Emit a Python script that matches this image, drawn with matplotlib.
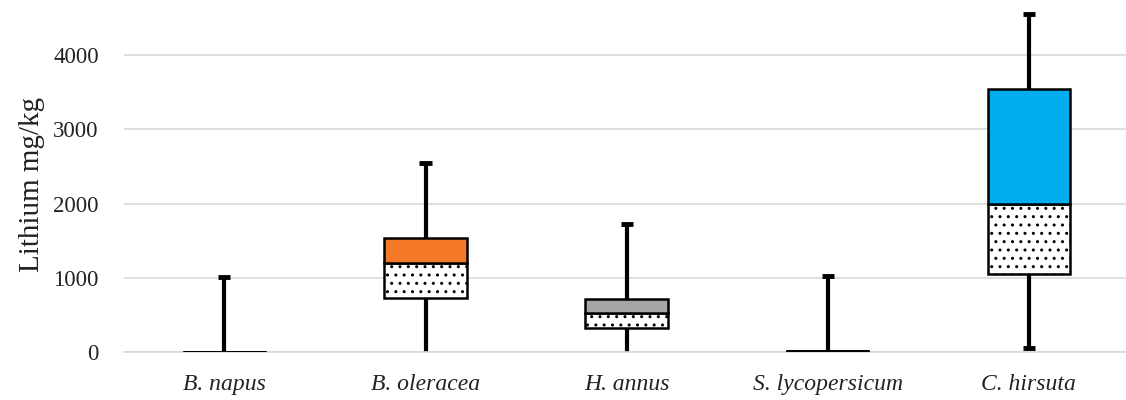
import matplotlib
matplotlib.use("Agg")
import matplotlib.pyplot as plt
import numpy as np

plt.rcParams['hatch.linewidth'] = 1.0

categories = ["B. napus", "B. oleracea", "H. annus", "S. lycopersicum", "C. hirsuta"]
mins    = [0,    0,    0,    0,    55]
q1      = [0,    730,  325,  20,   1050]
medians = [0,    1200, 525,  20,   1995]
q3      = [0,    1540, 715,  20,   3545]
maxs    = [1010, 2550, 1725, 1030, 4555]
colors  = ["#F47A2A", "#F47A2A", "#A6A6A6", "#A6A6A6", "#00ADEE"]

fig = plt.figure(figsize=(11.26, 4.0), dpi=100)
ax = fig.add_axes([0.110, 0.12, 0.893, 0.88])

x = np.arange(len(categories))
w = 0.41
q1a = np.array(q1); meda = np.array(medians); q3a = np.array(q3)

ax.set_axisbelow(True)
ax.yaxis.grid(True, color="#D9D9D9", lw=1.2)

# whiskers
ax.vlines(x, q3a, maxs, color="black", lw=3, zorder=2)
ax.vlines(x, mins, q1a, color="black", lw=3, zorder=2)
for xi, mx, mn in zip(x, maxs, mins):
    ax.hlines(mx, xi - 0.03, xi + 0.03, color="black", lw=3.5, zorder=2)
    if mn > 0:
        ax.hlines(mn, xi - 0.03, xi + 0.03, color="black", lw=3.5, zorder=2)

# lower box (hatched) and upper box (colored)
ax.bar(x, meda - q1a, bottom=q1a, width=w, color="white", edgecolor="black",
       hatch="..", lw=0, zorder=3)
ax.bar(x, meda - q1a, bottom=q1a, width=w, color="none", edgecolor="black",
       lw=1.8, zorder=4)
ax.bar(x, q3a - meda, bottom=meda, width=w, color=colors, edgecolor="black",
       lw=1.8, zorder=4)
# flat boxes
for xi, a, b in zip(x, q1, q3):
    if a == b:
        ax.hlines(a, xi - w / 2, xi + w / 2, color="black", lw=2, zorder=5)

ax.set_xlim(-0.5, 4.5)
ax.set_ylim(0, 4741)
ax.set_yticks([0, 1000, 2000, 3000, 4000])
ax.set_xticks(x)
ax.set_xticklabels(categories, fontstyle="italic", family="Liberation Serif", fontsize=17, color="#222222")
for lab in ax.get_yticklabels():
    lab.set_family("Liberation Serif")
    lab.set_fontsize(16.5)
    lab.set_color("#222222")
ax.tick_params(axis="x", length=0, pad=16)
ax.tick_params(axis="y", length=0, pad=18)
for s in ["top", "right", "left"]:
    ax.spines[s].set_visible(False)
ax.spines["bottom"].set_color("#D9D9D9")
ax.spines["bottom"].set_linewidth(1.2)
ax.set_ylabel("Lithium mg/kg", family="Liberation Serif", fontsize=21, color="#222222")
ax.yaxis.set_label_coords(-0.078, 0.475)

fig.savefig("out.png", dpi=100)
